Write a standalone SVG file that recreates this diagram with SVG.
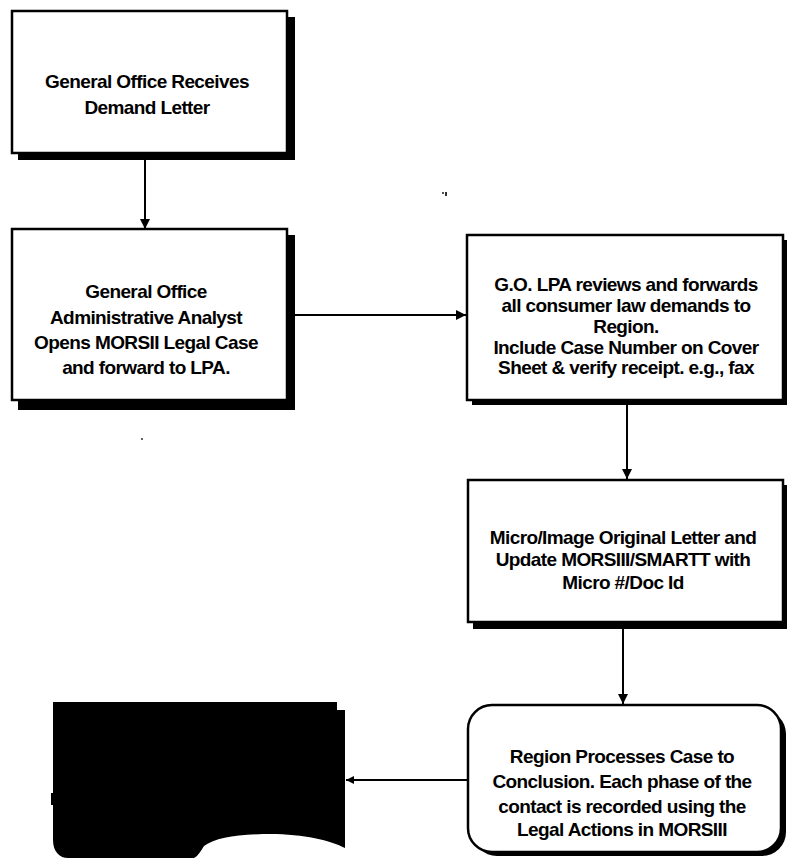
<svg xmlns="http://www.w3.org/2000/svg" width="787" height="858" viewBox="0 0 787 858">
  <style>
    .box { fill: #fff; stroke: #000; stroke-width: 2.5; }
    .shadow { fill: #000; }
    .label { font-family: "Liberation Sans", Arial, sans-serif; font-weight: bold; font-size: 19px; fill: #000; text-anchor: middle; letter-spacing: -0.6px; }
    .wire { fill: none; stroke: #000; stroke-width: 2; }
  </style>
  <defs>
    <marker id="arrow" viewBox="0 0 10 10" refX="10" refY="5" markerWidth="10" markerHeight="10" markerUnits="userSpaceOnUse" orient="auto">
      <path d="M0,0 L10,5 L0,10 Z" fill="#000"/>
    </marker>
    <marker id="arrowSmall" viewBox="0 0 10 10" refX="10" refY="5" markerWidth="8" markerHeight="9" markerUnits="userSpaceOnUse" orient="auto">
      <path d="M0,0 L10,5 L0,10 Z" fill="#000"/>
    </marker>
  </defs>
  <rect width="787" height="858" fill="#fff"/>

  <!-- Connectors -->
  <g id="connectors">
    <line class="wire" x1="145" y1="160" x2="145" y2="229" marker-end="url(#arrow)"/>
    <line class="wire" x1="295" y1="315" x2="466" y2="315" marker-end="url(#arrow)"/>
    <line class="wire" x1="627" y1="405" x2="627" y2="479" marker-end="url(#arrow)"/>
    <line class="wire" x1="623" y1="629" x2="623" y2="704" marker-end="url(#arrow)"/>
    <line class="wire" x1="468" y1="780" x2="346" y2="780" marker-end="url(#arrowSmall)"/>
  </g>

  <!-- Step 1 -->
  <g id="receive-letter">
    <rect class="shadow" x="18" y="17" width="277" height="143"/>
    <rect class="box" x="12" y="11" width="275" height="142"/>
    <text class="label" x="147" y="88">General Office Receives</text>
    <text class="label" x="147" y="114">Demand Letter</text>
  </g>

  <!-- Step 2 -->
  <g id="open-case">
    <rect class="shadow" x="18" y="235" width="277" height="175"/>
    <rect class="box" x="12" y="229" width="275" height="171"/>
    <text class="label" x="146" y="298">General Office</text>
    <text class="label" x="146" y="324">Administrative Analyst</text>
    <text class="label" x="146" y="349">Opens MORSII Legal Case</text>
    <text class="label" x="146" y="374">and forward to LPA.</text>
  </g>

  <!-- Step 3 -->
  <g id="lpa-review">
    <rect class="shadow" x="472" y="240" width="315" height="165"/>
    <rect class="box" x="467" y="235" width="316" height="165"/>
    <text class="label" x="626" y="291">G.O. LPA reviews and forwards</text>
    <text class="label" x="626" y="312">all consumer law demands to</text>
    <text class="label" x="626" y="333">Region.</text>
    <text class="label" x="626" y="354">Include Case Number on Cover</text>
    <text class="label" x="626" y="374">Sheet &amp; verify receipt. e.g., fax</text>
  </g>

  <!-- Step 4 -->
  <g id="micro-image">
    <rect class="shadow" x="473" y="485" width="314" height="144"/>
    <rect class="box" x="468" y="480" width="315" height="142"/>
    <text class="label" x="623" y="544">Micro/Image Original Letter and</text>
    <text class="label" x="623" y="566">Update MORSIII/SMARTT with</text>
    <text class="label" x="623" y="589">Micro #/Doc Id</text>
  </g>

  <!-- Step 5 -->
  <g id="region-processes">
    <rect class="shadow" x="473" y="710" width="313" height="146" rx="24" ry="24"/>
    <rect class="box" x="468" y="705" width="313" height="147" rx="24" ry="24"/>
    <text class="label" x="622" y="763">Region Processes Case to</text>
    <text class="label" x="622" y="788">Conclusion. Each phase of the</text>
    <text class="label" x="622" y="813">contact is recorded using the</text>
    <text class="label" x="622" y="836">Legal Actions in MORSIII</text>
  </g>

  <!-- Document (filled) -->
  <g id="document">
    <path d="M53,702 H337 V710 H345 V848 C330,840 300,833 263,834 C235,835 215,838 204,846 C200,852 198,856 194,858 H68 C60,858 53,852 53,840 V805 H51 V793 H53 Z" fill="#000"/>
  </g>

  <!-- scanner specks -->
  <rect x="442" y="192" width="2" height="2" fill="#555"/>
  <rect x="445" y="192" width="2" height="4" fill="#333"/>
  <rect x="141" y="438" width="2" height="2" fill="#666"/>
</svg>
